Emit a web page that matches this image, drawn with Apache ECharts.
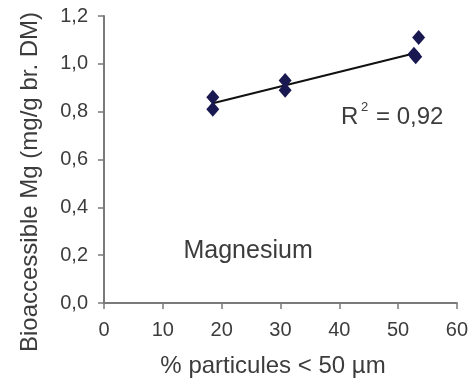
<!DOCTYPE html>
<html><head><meta charset="utf-8">
<script src="https://cdn.jsdelivr.net/npm/echarts@6/dist/echarts.min.js"></script>
<style>html,body{margin:0;padding:0;background:#fff}#c{width:471px;height:381px}</style>
</head><body><div id="c"></div>
<script>
const pctParticles = [18.5, 18.5, 30.8, 30.8, 52.7, 53.0, 53.5];
const mgValues = [0.86, 0.81, 0.93, 0.89, 1.04, 1.03, 1.11];
const trendX = [18.5, 53.0];
const trendY = [0.835, 1.045];
const xTicks = [0, 10, 20, 30, 40, 50, 60];
const yTicks = [0.0, 0.2, 0.4, 0.6, 0.8, 1.0, 1.2];
const r2Value = '0,92';
const elementLabel = 'Magnesium';
const xTitle = '% particules < 50 µm';
const yTitle = 'Bioaccessible Mg (mg/g br. DM)';

const FONT = '"Liberation Sans", Arial, sans-serif';
const chart = echarts.init(document.getElementById('c'));
const axisCol = '#7a7a7a';
const txt = '#3c3c3c';
chart.setOption({
  animation: false,
  grid: {left: 104, right: 13, top: 16, bottom: 78},
  xAxis: {
    type: 'value', min: xTicks[0], max: xTicks[xTicks.length-1], interval: 10,
    axisLine: {onZero: false, lineStyle: {color: axisCol, width: 2}},
    axisTick: {show: true, length: 6, lineStyle: {color: axisCol, width: 1.5}},
    splitLine: {show: false},
    axisLabel: {color: txt, fontFamily: FONT, fontSize: 20, margin: 17}
  },
  yAxis: {
    type: 'value', min: yTicks[0], max: yTicks[yTicks.length-1], interval: 0.2,
    axisLine: {show: true, onZero: false, lineStyle: {color: axisCol, width: 2}},
    axisTick: {show: true, length: 6, lineStyle: {color: axisCol, width: 1.5}},
    splitLine: {show: false},
    axisLabel: {color: txt, fontFamily: FONT, fontSize: 20, margin: 16,
      formatter: v => v.toFixed(1).replace('.', ',')}
  },
  series: [
    {type: 'line', data: trendX.map((x, i) => [x, trendY[i]]), symbol: 'none',
     lineStyle: {color: '#111', width: 2}, z: 2},
    {type: 'scatter', data: pctParticles.map((x, i) => [x, mgValues[i]]), symbol: 'diamond',
     symbolSize: [13, 15], itemStyle: {color: '#1a1850', opacity: 1}, z: 3}
  ]
});
const p1 = chart.convertToPixel({gridIndex: 0}, [40.3, 0.775]);
const p2 = chart.convertToPixel({gridIndex: 0}, [24.5, 0.215]);
chart.setOption({graphic: [
  {type: 'text', x: 30, y: 182, rotation: Math.PI/2,
   style: {text: yTitle, fill: txt, font: '24px ' + FONT, align: 'center', verticalAlign: 'middle'}},
  {type: 'text', x: 273, y: 366,
   style: {text: xTitle, fill: txt, font: '24px ' + FONT, align: 'center', verticalAlign: 'middle'}},
  {type: 'text', x: p1[0], y: p1[1],
   style: {text: 'R', fill: txt, font: '24px ' + FONT, align: 'left', verticalAlign: 'middle'}},
  {type: 'text', x: p1[0] + 20, y: p1[1] - 10,
   style: {text: '2', fill: txt, font: '13px ' + FONT, align: 'left', verticalAlign: 'middle'}},
  {type: 'text', x: p1[0] + 35, y: p1[1],
   style: {text: '= ' + r2Value, fill: txt, font: '24px ' + FONT, align: 'left', verticalAlign: 'middle'}},
  {type: 'text', x: p2[0], y: p2[1],
   style: {text: elementLabel, fill: txt, font: '25px ' + FONT, align: 'center', verticalAlign: 'middle'}}
]});
</script></body></html>
